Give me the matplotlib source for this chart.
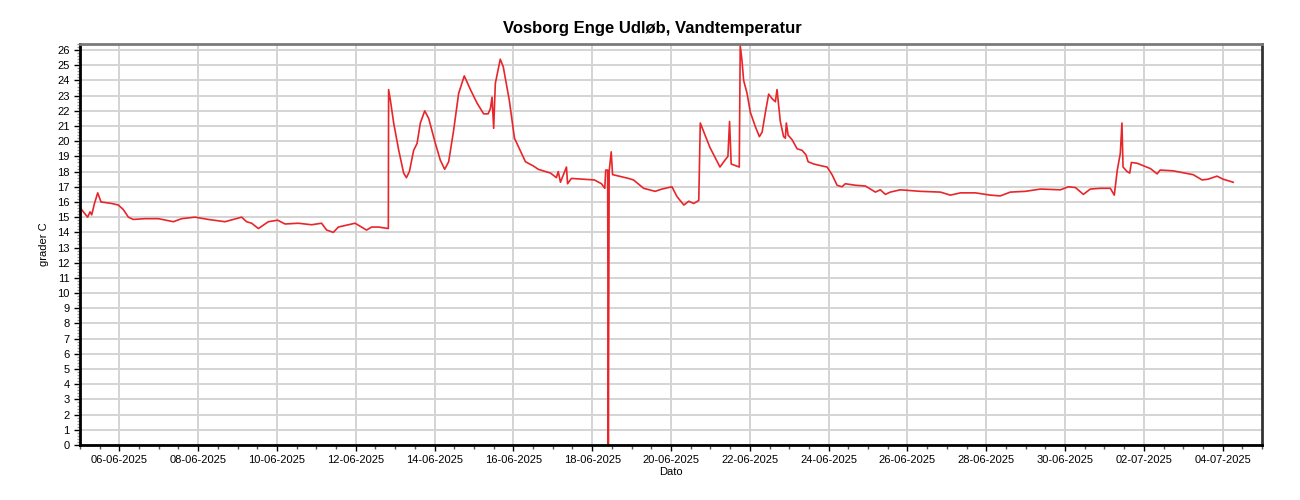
import matplotlib.pyplot as plt
import matplotlib.dates as mdates
from matplotlib.ticker import MultipleLocator
import pandas as pd

plt.rcParams['font.family'] = ['Liberation Sans', 'DejaVu Sans']

# (tid, vandtemperatur i grader C)
tid = [
    "2025-06-05 00:00", "2025-06-05 01:00", "2025-06-05 04:40", "2025-06-05 06:10",
    "2025-06-05 07:10", "2025-06-05 08:50", "2025-06-05 10:50", "2025-06-05 12:50",
    "2025-06-05 19:20", "2025-06-05 23:20", "2025-06-06 02:25", "2025-06-06 05:30",
    "2025-06-06 08:30", "2025-06-06 15:40", "2025-06-06 23:50", "2025-06-07 08:55",
    "2025-06-07 13:55", "2025-06-07 22:05", "2025-06-08 06:10", "2025-06-08 16:20",
    "2025-06-09 02:30", "2025-06-09 05:30", "2025-06-09 08:35", "2025-06-09 12:40",
    "2025-06-09 18:45", "2025-06-10 00:25", "2025-06-10 04:55", "2025-06-10 13:00",
    "2025-06-10 21:05", "2025-06-11 03:10", "2025-06-11 06:15", "2025-06-11 10:20",
    "2025-06-11 13:25", "2025-06-11 23:35", "2025-06-12 06:35", "2025-06-12 09:40",
    "2025-06-12 13:45", "2025-06-12 19:50",
    # første varmebølge
    "2025-06-12 20:00", "2025-06-12 21:05", "2025-06-12 23:05", "2025-06-13 02:10",
    "2025-06-13 05:10", "2025-06-13 06:50", "2025-06-13 08:40", "2025-06-13 11:15",
    "2025-06-13 13:20", "2025-06-13 15:20", "2025-06-13 18:00", "2025-06-13 20:25",
    "2025-06-14 00:30", "2025-06-14 03:30", "2025-06-14 06:10", "2025-06-14 08:35",
    "2025-06-14 11:35", "2025-06-14 14:40", "2025-06-14 18:05", "2025-06-14 21:50",
    "2025-06-15 01:55", "2025-06-15 05:55", "2025-06-15 08:35", "2025-06-15 10:00",
    "2025-06-15 11:00", "2025-06-15 12:00", "2025-06-15 13:00", "2025-06-15 16:00",
    "2025-06-15 17:50", "2025-06-15 21:30", "2025-06-16 00:40", "2025-06-16 07:20",
    "2025-06-16 12:10", "2025-06-16 15:10", "2025-06-16 22:40",
    # omkring udfaldet 18-06
    "2025-06-17 02:10", "2025-06-17 03:20", "2025-06-17 04:40", "2025-06-17 08:20",
    "2025-06-17 09:00", "2025-06-17 11:20", "2025-06-18 01:20", "2025-06-18 05:40",
    "2025-06-18 07:40", "2025-06-18 08:15", "2025-06-18 09:25", "2025-06-18 09:50",
    "2025-06-18 10:20", "2025-06-18 11:35", "2025-06-18 12:25", "2025-06-18 22:10",
    "2025-06-19 01:10", "2025-06-19 07:20", "2025-06-19 14:20", "2025-06-19 18:30",
    "2025-06-20 00:35", "2025-06-20 03:40", "2025-06-20 07:50", "2025-06-20 10:50",
    "2025-06-20 13:50", "2025-06-20 16:55",
    # anden varmebølge
    "2025-06-20 17:50", "2025-06-20 23:40", "2025-06-21 05:50", "2025-06-21 08:50",
    "2025-06-21 10:40", "2025-06-21 11:40", "2025-06-21 12:40", "2025-06-21 15:10",
    "2025-06-21 17:35", "2025-06-21 18:10", "2025-06-21 19:15", "2025-06-21 20:15",
    "2025-06-21 22:20", "2025-06-22 00:20", "2025-06-22 03:25", "2025-06-22 05:50",
    "2025-06-22 07:30", "2025-06-22 09:30", "2025-06-22 11:30", "2025-06-22 13:35",
    "2025-06-22 15:35", "2025-06-22 16:35", "2025-06-22 18:35", "2025-06-22 20:35",
    "2025-06-22 21:40", "2025-06-22 22:15", "2025-06-22 23:20", "2025-06-23 01:45",
    "2025-06-23 04:50", "2025-06-23 07:50", "2025-06-23 10:15", "2025-06-23 11:30",
    "2025-06-23 14:55", "2025-06-23 20:00", "2025-06-23 23:05", "2025-06-24 02:05",
    "2025-06-24 05:10", "2025-06-24 08:10",
    # rolig periode
    "2025-06-24 10:10", "2025-06-24 16:20", "2025-06-24 22:25", "2025-06-25 04:30",
    "2025-06-25 07:30", "2025-06-25 10:35", "2025-06-25 13:35", "2025-06-25 19:40",
    "2025-06-26 07:55", "2025-06-26 20:05", "2025-06-27 02:10", "2025-06-27 08:20",
    "2025-06-27 17:25", "2025-06-28 02:30", "2025-06-28 08:35", "2025-06-28 14:40",
    "2025-06-28 23:55", "2025-06-29 09:00", "2025-06-29 21:10", "2025-06-30 02:05",
    "2025-06-30 06:20", "2025-06-30 11:10", "2025-06-30 15:25", "2025-06-30 21:30",
    "2025-07-01 03:35", "2025-07-01 06:00", "2025-07-01 07:50", "2025-07-01 09:40",
    "2025-07-01 10:40", "2025-07-01 11:20", "2025-07-01 13:50", "2025-07-01 15:25",
    "2025-07-01 16:25", "2025-07-01 19:55", "2025-07-02 04:00", "2025-07-02 08:05",
    "2025-07-02 09:55", "2025-07-02 17:50", "2025-07-03 06:00", "2025-07-03 11:30",
    "2025-07-03 15:05", "2025-07-03 20:35", "2025-07-04 00:15", "2025-07-04 06:25",
]
temp = [
    15.6, 15.5, 15.0, 15.35,
    15.15, 15.9, 16.6, 16.0,
    15.9, 15.8, 15.5, 15.0,
    14.85, 14.9, 14.9, 14.7,
    14.9, 15.0, 14.85, 14.7,
    15.0, 14.7, 14.6, 14.25,
    14.7, 14.8, 14.55, 14.6,
    14.5, 14.6, 14.15, 14.0,
    14.35, 14.6, 14.15, 14.35,
    14.35, 14.25,
    23.4, 22.7, 21.2, 19.4,
    17.9, 17.6, 18.0, 19.4,
    19.85, 21.2, 22.0, 21.5,
    19.85, 18.75, 18.15, 18.65,
    20.7, 23.15, 24.3, 23.4,
    22.5, 21.8, 21.8, 22.15,
    22.9, 20.85, 23.8, 25.4,
    24.9, 22.7, 20.2, 18.65,
    18.37, 18.15, 17.9,
    17.6, 18.0, 17.3, 18.3,
    17.2, 17.55, 17.45, 17.2,
    16.9, 18.1, 18.1, 0.0,
    18.0, 19.3, 17.8, 17.55,
    17.45, 16.9, 16.7, 16.85,
    17.0, 16.35, 15.8, 16.05,
    15.9, 16.1,
    21.2, 19.6, 18.3, 18.75,
    19.0, 21.3, 18.5, 18.4,
    18.3, 26.3, 25.3, 24.0,
    23.15, 21.9, 20.95, 20.3,
    20.6, 21.9, 23.1, 22.8,
    22.6, 23.4, 21.3, 20.3,
    20.2, 21.2, 20.4, 20.1,
    19.5, 19.4, 19.1, 18.65,
    18.5, 18.37, 18.3, 17.8,
    17.1, 17.0,
    17.2, 17.1, 17.05, 16.65,
    16.8, 16.5, 16.65, 16.8,
    16.7, 16.65, 16.45, 16.6,
    16.6, 16.45, 16.4, 16.65,
    16.7, 16.85, 16.8, 17.0,
    16.95, 16.5, 16.85, 16.9,
    16.9, 16.45, 18.1, 19.2,
    21.2, 18.3, 18.0, 17.9,
    18.6, 18.55, 18.2, 17.85,
    18.1, 18.05, 17.8, 17.45,
    17.5, 17.7, 17.5, 17.3,
]

tid = pd.to_datetime(tid)
dato_ticks = pd.date_range("2025-06-06", "2025-07-04", freq="2D")

fig = plt.figure(figsize=(13, 5), dpi=100)
ax = fig.add_axes([0.0615, 0.11, 0.9093, 0.802])

ax.plot(tid, temp, color='#e8262a', lw=1.2)

ax.set_xlim(pd.Timestamp("2025-06-05"), pd.Timestamp("2025-07-05"))
ax.set_ylim(0, 26.4)

ax.set_xticks(dato_ticks)
ax.xaxis.set_major_formatter(mdates.DateFormatter('%d-%m-%Y'))
ax.xaxis.set_minor_locator(mdates.HourLocator(byhour=[0, 12]))
ax.yaxis.set_major_locator(MultipleLocator(1))
ax.yaxis.set_minor_locator(MultipleLocator(0.2))

ax.grid(True, which='major', axis='both', color='#d4d4d4', lw=1.4)
ax.set_axisbelow(True)

ax.tick_params(axis='both', which='major', labelsize=8, colors='black', length=4, width=1)
ax.tick_params(axis='x', which='minor', length=3, width=1, color='#555555')
ax.tick_params(axis='y', which='minor', length=2, width=1, color='#999999')

for s in ['left', 'bottom']:
    ax.spines[s].set_linewidth(2)
    ax.spines[s].set_color('black')
ax.spines['top'].set_linewidth(2)
ax.spines['top'].set_color('#7a7a7a')
ax.spines['right'].set_linewidth(2)
ax.spines['right'].set_color('#333333')

ax.set_title("Vosborg Enge Udløb, Vandtemperatur", fontsize=12, fontweight='bold',
             pad=8, x=0.484)
ax.set_xlabel("Dato", fontsize=8, labelpad=1)
ax.set_ylabel("grader C", fontsize=8, labelpad=6)

fig.savefig("out.png", dpi=100)
